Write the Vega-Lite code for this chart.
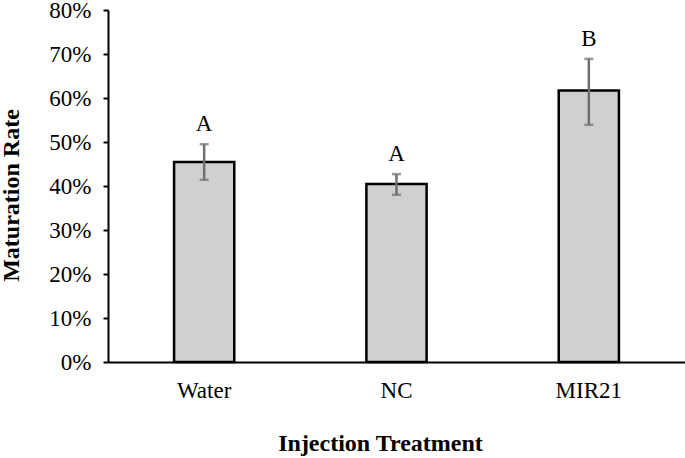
{
  "$schema": "https://vega.github.io/schema/vega-lite/v6.json",
  "autosize": "none",
  "width": 577,
  "height": 352,
  "padding": {"left": 108, "top": 10, "right": 0, "bottom": 96},
  "background": "white",
  "config": {
    "view": {"stroke": null},
    "font": "Liberation Serif",
    "axis": {"grid": false, "domainColor": "black", "tickColor": "black", "labelColor": "black", "titleColor": "black", "labelFont": "Liberation Serif", "titleFont": "Liberation Serif"}
  },
  "data": {
    "values": [
      {"treatment": "Water", "rate": 0.4545, "lower": 0.414, "upper": 0.495, "group": "A"},
      {"treatment": "NC", "rate": 0.4045, "lower": 0.380, "upper": 0.427, "group": "A"},
      {"treatment": "MIR21", "rate": 0.617, "lower": 0.539, "upper": 0.689, "group": "B"}
    ]
  },
  "encoding": {
    "x": {
      "field": "treatment",
      "type": "nominal",
      "sort": ["Water", "NC", "MIR21"],
      "scale": {"paddingInner": 0.687, "paddingOuter": 0.3435},
      "axis": {
        "title": "Injection Treatment",
        "labelAngle": 0,
        "labelFontSize": 23,
        "ticks": false,
        "labelPadding": 17,
        "domainWidth": 2,
        "titleFontSize": 24,
        "titleFontWeight": "bold",
        "titleX": 272,
        "titleY": 88,
        "titleBaseline": "alphabetic"
      }
    }
  },
  "layer": [
    {
      "mark": {"type": "bar", "fill": "#d0d0d0", "stroke": "black", "strokeWidth": 2.5},
      "encoding": {
        "y": {
          "field": "rate",
          "type": "quantitative",
          "scale": {"domain": [0, 0.8]},
          "axis": {
            "title": "Maturation Rate",
            "format": ".0%",
            "values": [0, 0.1, 0.2, 0.3, 0.4, 0.5, 0.6, 0.7, 0.8],
            "labelFontSize": 23,
            "tickSize": 5,
            "tickWidth": 2,
            "domainWidth": 2,
            "labelPadding": 12,
            "titleFontSize": 24,
            "titleFontWeight": "bold",
            "titleAngle": -90,
            "titleX": -90,
            "titleY": 185,
            "titleBaseline": "alphabetic",
            "titleAlign": "center"
          }
        }
      }
    },
    {
      "mark": {"type": "rule", "color": "#707070", "strokeWidth": 2.5},
      "encoding": {
        "y": {"field": "lower", "type": "quantitative"},
        "y2": {"field": "upper"}
      }
    },
    {
      "mark": {"type": "tick", "color": "#707070", "thickness": 2.5, "size": 9},
      "encoding": {"y": {"field": "lower", "type": "quantitative"}}
    },
    {
      "mark": {"type": "tick", "color": "#707070", "thickness": 2.5, "size": 9},
      "encoding": {"y": {"field": "upper", "type": "quantitative"}}
    },
    {
      "mark": {"type": "text", "fontSize": 23, "dy": -13, "baseline": "alphabetic", "color": "black", "font": "Liberation Serif"},
      "encoding": {
        "y": {"field": "upper", "type": "quantitative"},
        "text": {"field": "group"}
      }
    }
  ]
}
